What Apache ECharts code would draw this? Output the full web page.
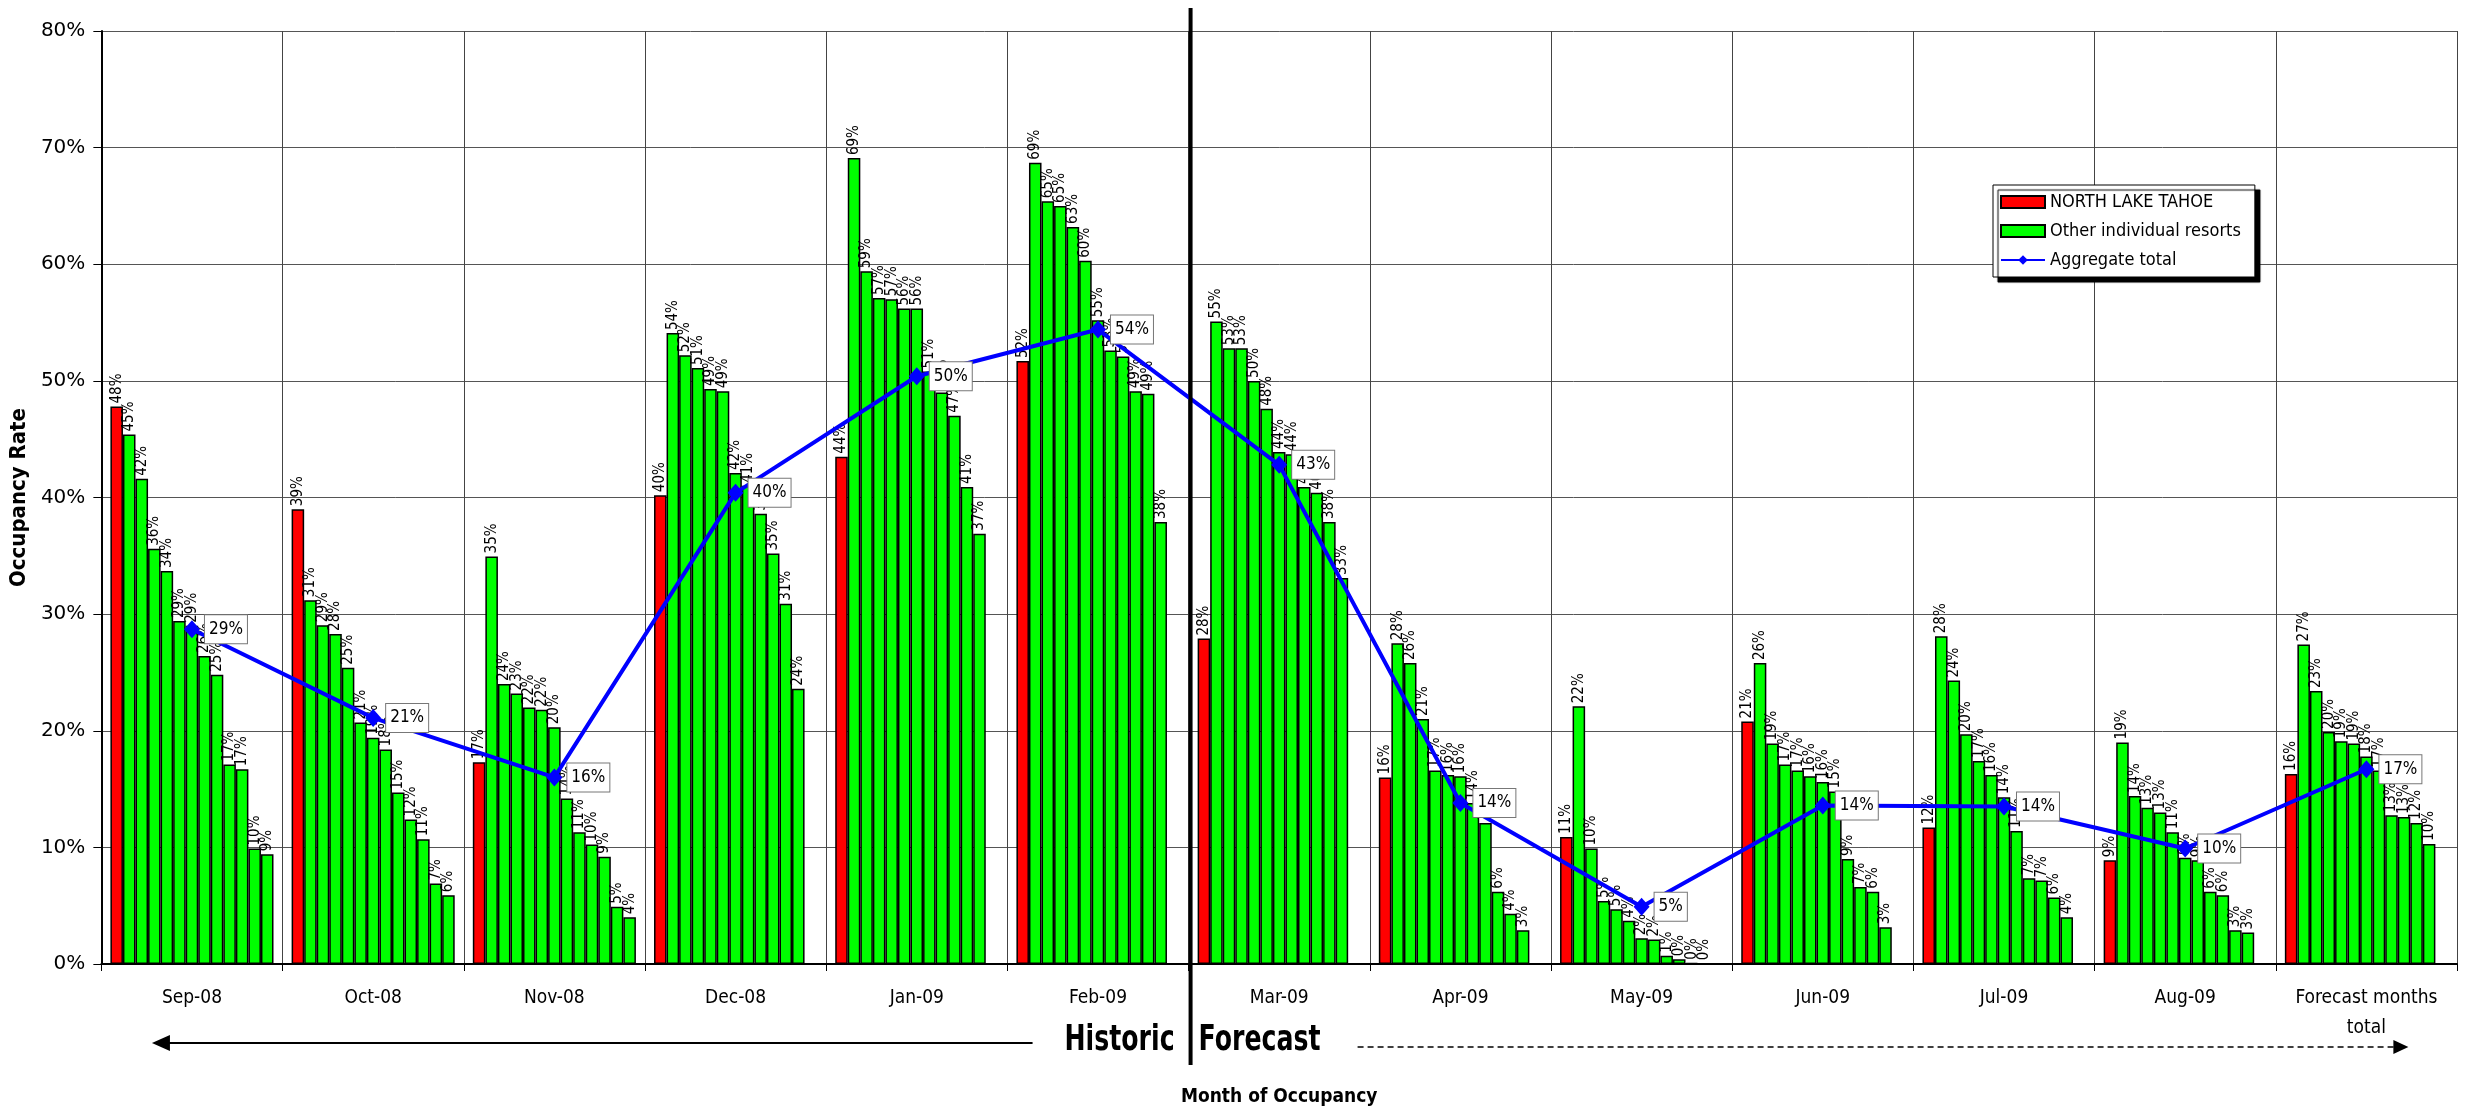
<!DOCTYPE html>
<html><head><meta charset="utf-8">
<script src="https://cdn.jsdelivr.net/npm/echarts@6/dist/echarts.min.js"></script>
<style>html,body{margin:0;padding:0;background:#fff}#chart{width:2470px;height:1114px}</style>
</head><body><div id="chart"></div>
<script>
// ---------- DATA ----------
const categories = ['Sep-08','Oct-08','Nov-08','Dec-08','Jan-09','Feb-09','Mar-09','Apr-09','May-09','Jun-09','Jul-09','Aug-09','Forecast months total'];
const yTicks = [0,10,20,30,40,50,60,70,80];
const northLakeTahoe = [47.8, 39.0, 17.3, 40.2, 43.5, 51.7, 27.9, 16.0, 10.9, 20.8, 11.7, 8.9, 16.3];
const aggregateTotal = [28.7, 21.1, 16.0, 40.4, 50.4, 54.4, 42.8, 13.8, 4.9, 13.6, 13.5, 9.9, 16.7];
// other individual resorts, ranked high to low within each month
const otherSep08 = [45.4, 41.6, 35.6, 33.7, 29.4, 29.0, 26.4, 24.8, 17.1, 16.7, 9.9, 9.4];
const otherOct08 = [31.2, 29.05, 28.3, 25.4, 20.7, 19.4, 18.4, 14.7, 12.4, 10.7, 6.9, 5.9];
const otherNov08 = [34.95, 24.0, 23.2, 22.0, 21.8, 20.3, 14.2, 11.3, 10.25, 9.2, 4.9, 4.0];
const otherDec08 = [54.1, 52.2, 51.1, 49.3, 49.1, 42.1, 41.0, 38.6, 35.2, 30.9, 23.6, null];
const otherJan09 = [69.1, 59.4, 57.1, 57.0, 56.2, 56.2, 50.8, 49.0, 47.0, 40.9, 36.9, null];
const otherFeb09 = [68.7, 65.4, 65.0, 63.2, 60.3, 55.2, 52.6, 52.1, 49.1, 48.9, 37.9, null];
const otherMar09 = [55.1, 52.8, 52.8, 50.0, 47.6, 43.9, 43.7, 40.9, 40.4, 37.9, 33.1, null];
const otherApr09 = [27.5, 25.8, 21.0, 16.6, 16.2, 16.1, 13.8, 12.1, 6.2, 4.3, 2.9, null];
const otherMay09 = [22.1, 9.9, 5.4, 4.7, 3.7, 2.2, 2.1, 0.7, 0.4, 0.1, 0.0, null];
const otherJun09 = [25.8, 18.9, 17.1, 16.6, 16.1, 15.6, 14.8, 9.0, 6.6, 6.2, 3.15, null];
const otherJul09 = [28.1, 24.3, 19.7, 17.4, 16.2, 14.3, 11.4, 7.35, 7.15, 5.7, 4.0, null];
const otherAug09 = [19.0, 14.4, 13.4, 13.0, 11.3, 9.1, 8.9, 6.2, 5.9, 2.9, 2.7, null];
const otherForecast = [27.4, 23.4, 19.9, 19.1, 18.9, 17.8, 16.6, 12.75, 12.6, 12.1, 10.3, null];
const otherResorts = [otherSep08, otherOct08, otherNov08, otherDec08, otherJan09, otherFeb09, otherMar09, otherApr09, otherMay09, otherJun09, otherJul09, otherAug09, otherForecast];

// ---------- CHART ----------
const NARROW = "'Liberation Sans Narrow','Arial Narrow','DejaVu Sans Condensed',sans-serif";
const chart = echarts.init(document.getElementById('chart'), null, {renderer: 'canvas'});

const barLabel = {
  show: true, position: 'top', rotate: 90, align: 'left', verticalAlign: 'middle', distance: 3,
  fontFamily: NARROW, fontSize: 15, color: '#000',
  formatter: p => (p.value == null ? '' : Math.round(p.value) + '%')
};
const series = [];
series.push({
  name: 'NORTH LAKE TAHOE', type: 'bar', data: northLakeTahoe,
  barGap: '0%', barCategoryGap: '10%',
  itemStyle: {color: '#FF0000', borderColor: '#000', borderWidth: 1.5},
  label: barLabel
});
const nResorts = Math.max(...otherResorts.map(a => a.length));
for (let r = 0; r < nResorts; r++) {
  series.push({
    name: 'Other individual resorts', type: 'bar',
    data: otherResorts.map(m => (m[r] === undefined ? null : m[r])),
    barGap: '0%', barCategoryGap: '10%',
    itemStyle: {color: '#00FF00', borderColor: '#000', borderWidth: 1.5},
    label: barLabel
  });
}
series.push({
  name: 'Aggregate total', type: 'line', data: aggregateTotal, z: 5,
  symbol: 'diamond', symbolSize: [16, 18],
  lineStyle: {color: '#0000FF', width: 4},
  itemStyle: {color: '#0000FF'},
  label: {
    show: true, position: 'right', distance: 5,
    formatter: p => Math.round(p.value) + '%',
    backgroundColor: '#fff', borderColor: '#777', borderWidth: 1, padding: [6, 4, 5, 4],
    fontFamily: NARROW, fontSize: 17, color: '#000'
  }
});

chart.setOption({
  animation: false,
  backgroundColor: '#fff',
  grid: {left: 98, right: 13, top: 31, bottom: 150, containLabel: false},
  legend: {
    orient: 'vertical', left: 1993, top: 185,
    data: [
      {name: 'NORTH LAKE TAHOE', icon: 'rect'},
      {name: 'Other individual resorts', icon: 'rect'},
      {name: 'Aggregate total'}
    ],
    itemWidth: 44, itemHeight: 12, itemGap: 11,
    padding: [8, 14, 8, 7],
    backgroundColor: '#fff', borderColor: '#000', borderWidth: 1,
    shadowColor: '#000', shadowBlur: 1, shadowOffsetX: 5, shadowOffsetY: 5,
    textStyle: {fontFamily: NARROW, fontSize: 18, color: '#000'},
    selectedMode: false
  },
  xAxis: {
    type: 'category', data: categories,
    name: 'Month of Occupancy', nameLocation: 'middle', nameGap: 124,
    nameTextStyle: {fontFamily: NARROW, fontSize: 19, fontWeight: 'bold', color: '#000'},
    axisLine: {lineStyle: {color: '#000', width: 2}},
    axisTick: {show: true, length: 7, interval: 0, lineStyle: {color: '#000'}},
    axisLabel: {
      interval: 0, margin: 19, fontFamily: NARROW, fontSize: 19, lineHeight: 30, color: '#000',
      formatter: v => v.replace(' total', '\ntotal')
    },
    splitLine: {show: true, interval: 0, lineStyle: {color: '#444', width: 1}}
  },
  yAxis: {
    type: 'value', min: yTicks[0], max: yTicks[yTicks.length - 1], interval: 10,
    name: 'Occupancy Rate', nameLocation: 'middle', nameGap: 68,
    nameTextStyle: {fontFamily: NARROW, fontSize: 22, fontWeight: 'bold', color: '#000'},
    axisLine: {show: true, lineStyle: {color: '#000', width: 2}},
    axisTick: {show: true, length: 8, lineStyle: {color: '#000'}},
    axisLabel: {margin: 16, fontFamily: "'DejaVu Sans',sans-serif", fontSize: 20, color: '#000', formatter: '{value}%'},
    splitLine: {show: true, lineStyle: {color: '#555', width: 1}}
  },
  series: series
});

// decorations: historic / forecast divider and arrows
const xFeb = chart.convertToPixel({xAxisIndex: 0}, 'Feb-09');
const xMar = chart.convertToPixel({xAxisIndex: 0}, 'Mar-09');
const divX = (xFeb + xMar) / 2 + 2;
const firstX = chart.convertToPixel({xAxisIndex: 0}, categories[0]);
const lastX = chart.convertToPixel({xAxisIndex: 0}, categories[categories.length - 1]);
chart.setOption({
  graphic: [
    {type: 'line', z: 100, shape: {x1: divX, y1: 8, x2: divX, y2: 1065}, style: {stroke: '#000', lineWidth: 4}},
    {type: 'text', z: 100, x: divX - 16, y: 1041, scaleX: 0.8, style: {text: 'Historic', fontFamily: NARROW, fontSize: 35, fontWeight: 'bold', fill: '#000', align: 'right', verticalAlign: 'middle'}},
    {type: 'text', z: 100, x: divX + 8, y: 1041, scaleX: 0.8, style: {text: 'Forecast', fontFamily: NARROW, fontSize: 35, fontWeight: 'bold', fill: '#000', align: 'left', verticalAlign: 'middle'}},
    {type: 'line', z: 100, shape: {x1: firstX - 30, y1: 1043, x2: divX - 158, y2: 1043}, style: {stroke: '#000', lineWidth: 2}},
    {type: 'polygon', z: 100, shape: {points: [[firstX - 40, 1043], [firstX - 22, 1035], [firstX - 22, 1051]]}, style: {fill: '#000'}},
    {type: 'line', z: 100, shape: {x1: divX + 167, y1: 1047, x2: lastX + 28, y2: 1047}, style: {stroke: '#000', lineWidth: 1.5, lineDash: [6, 4]}},
    {type: 'polygon', z: 100, shape: {points: [[lastX + 42, 1047], [lastX + 27, 1040], [lastX + 27, 1054]]}, style: {fill: '#000'}}
  ]
});
</script></body></html>
